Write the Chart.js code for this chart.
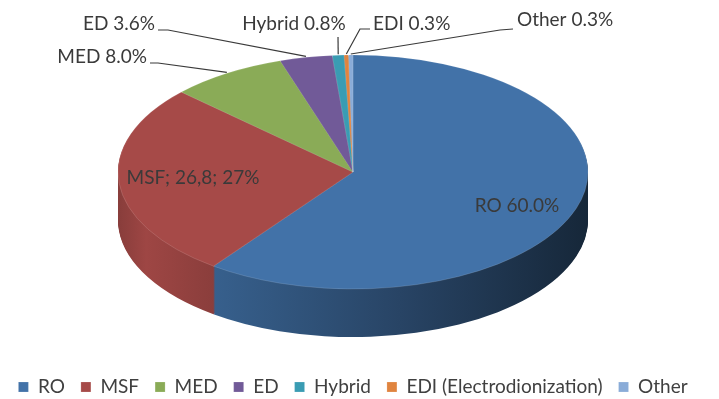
<!DOCTYPE html>
<html>
<head>
    <title>Desalination technologies</title>
    <script src="https://cdn.jsdelivr.net/npm/chart.js"></script>
    <style>
        html, body { margin: 0; padding: 0; background: #fff; }
        #wrap { width: 719px; height: 399px; }
    </style>
</head>
<body>
    <div id="wrap"><canvas id="pie"></canvas></div>

    <script>
        // data
        const categories = ['RO', 'MSF', 'MED', 'ED', 'Hybrid', 'EDI (Electrodionization)', 'Other'];
        const shares = [60.0, 26.8, 8.0, 3.6, 0.8, 0.3, 0.3];
        const labelTexts = ['RO 60.0%', 'MSF; 26,8; 27%', 'MED 8.0%', 'ED 3.6%', 'Hybrid 0.8%', 'EDI 0.3%', 'Other 0.3%'];
        const colors = ['#4272a8', '#a64a48', '#8aab57', '#715a98', '#3a9cb3', '#e0843f', '#8aacd8'];

        // 3D look
        const radiusX = 235;
        const radiusY = 117;
        const depth = 48;

        // where the data labels sit, and the elbow of their leader lines
        const labelLayout = [
            { x: 517, y: 206, align: 'center' },
            { x: 193, y: 178, align: 'center' },
            { x: 147, y: 57, align: 'right', elbow: [[150, 63], [158, 63]] },
            { x: 155, y: 24, align: 'right', elbow: [[158, 30], [168, 30]] },
            { x: 294, y: 24, align: 'center', elbow: [[338, 37]] },
            { x: 373, y: 24, align: 'left', elbow: [[370, 29], [360, 29]] },
            { x: 517, y: 20, align: 'left', elbow: [[513, 29], [500, 30]] }
        ];

        function shade(hex, f) {
            const n = parseInt(hex.slice(1), 16);
            const r = Math.round(((n >> 16) & 255) * f);
            const g = Math.round(((n >> 8) & 255) * f);
            const b = Math.round((n & 255) * f);
            return `rgb(${r},${g},${b})`;
        }

        function squash(ctx, cx, cy) {
            ctx.translate(cx, cy);
            ctx.scale(1, radiusY / radiusX);
            ctx.translate(-cx, -cy);
        }

        // draws the rim by stacking the library's own arcs, then flattens the top face
        const pie3d = {
            id: 'pie3d',
            beforeDatasetsDraw(chart) {
                const ctx = chart.ctx;
                const arcs = chart.getDatasetMeta(0).data;
                if (!arcs.length) return;
                const cx = arcs[0].x, cy = arcs[0].y;

                const sideFills = colors.map(c => {
                    const g = ctx.createLinearGradient(cx - radiusX, 0, cx + radiusX, 0);
                    g.addColorStop(0, shade(c, 0.82));
                    g.addColorStop(0.06, shade(c, 0.95));
                    g.addColorStop(0.2, shade(c, 0.84));
                    g.addColorStop(0.6, shade(c, 0.6));
                    g.addColorStop(1, shade(c, 0.34));
                    return g;
                });

                for (let d = depth; d >= 1; d--) {
                    ctx.save();
                    ctx.translate(0, d);
                    squash(ctx, cx, cy);
                    arcs.forEach((arc, i) => {
                        const saved = arc.options;
                        arc.options = Object.assign({}, saved, { backgroundColor: sideFills[i], borderWidth: 0 });
                        arc.draw(ctx);
                        arc.options = saved;
                    });
                    ctx.restore();
                }

                ctx.save();
                squash(ctx, cx, cy);
            },
            afterDatasetsDraw(chart) {
                const ctx = chart.ctx;
                const arcs = chart.getDatasetMeta(0).data;
                if (!arcs.length) return;
                ctx.restore();

                const k = radiusY / radiusX;
                ctx.save();
                ctx.font = '19px Lato';
                ctx.fillStyle = '#3a3a3a';
                ctx.strokeStyle = '#3a3a3a';
                ctx.lineWidth = 1.2;
                ctx.textBaseline = 'middle';
                arcs.forEach((arc, i) => {
                    const lay = labelLayout[i];
                    if (lay.elbow) {
                        const mid = (arc.startAngle + arc.endAngle) / 2;
                        const ax = arc.x + arc.outerRadius * Math.cos(mid);
                        const ay = arc.y + arc.outerRadius * k * Math.sin(mid);
                        ctx.beginPath();
                        ctx.moveTo(lay.elbow[0][0], lay.elbow[0][1]);
                        lay.elbow.slice(1).forEach(p => ctx.lineTo(p[0], p[1]));
                        ctx.lineTo(ax, ay - 1);
                        ctx.stroke();
                    }
                    ctx.textAlign = lay.align;
                    ctx.fillText(labelTexts[i], lay.x, lay.y);
                });
                ctx.restore();
            }
        };

        new Chart(document.getElementById('pie'), {
            type: 'pie',
            data: {
                labels: categories,
                datasets: [{
                    data: shares,
                    backgroundColor: colors,
                    borderColor: 'rgba(255,255,255,0.35)',
                    borderWidth: 0.5,
                    radius: radiusX
                }]
            },
            options: {
                responsive: true,
                maintainAspectRatio: false,
                animation: false,
                layout: { padding: { top: 0, bottom: -7.5, left: 0, right: 13 } },
                plugins: {
                    tooltip: { enabled: false },
                    legend: {
                        position: 'bottom',
                        // empty title only pushes the row down so the pie sits higher
                        title: { display: true, text: '', padding: { top: 7.5, bottom: 0 }, font: { size: 10, lineHeight: 1 } },
                        labels: {
                            boxWidth: 10,
                            boxHeight: 10,
                            padding: 16,
                            color: '#404040',
                            font: { family: 'Lato', size: 19 }
                        }
                    }
                }
            },
            plugins: [pie3d]
        });
    </script>
</body>
</html>
